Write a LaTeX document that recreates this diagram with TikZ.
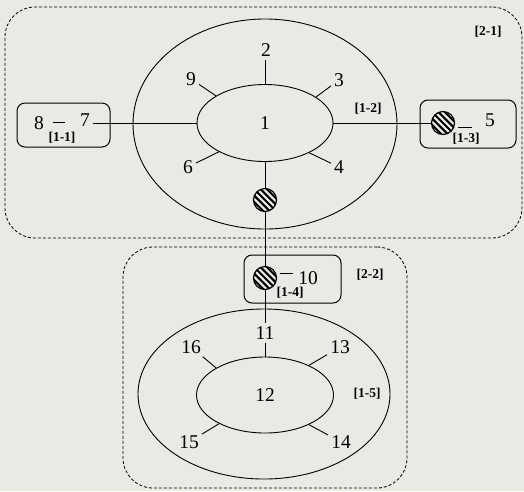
\documentclass[tikz,border=0pt]{standalone}
\usepackage{fontspec}
\setmainfont{Liberation Serif}
\usetikzlibrary{shapes.geometric}
\definecolor{paper}{RGB}{234,234,228}
\tikzset{
  ln/.style={line width=0.9pt, black},
  ell/.style={ellipse, draw, ln, inner sep=0pt},
  num/.style={inner sep=3pt, font=\fontsize{19.5}{21}\selectfont},
  lab/.style={inner sep=1pt, font=\fontsize{13.5}{15}\selectfont\bfseries},
  rbox/.style={rectangle, draw, line width=1pt, rounded corners=8pt, inner sep=0pt},
  dbox/.style={rectangle, draw, line width=0.8pt, dash pattern=on 3pt off 2pt, rounded corners=30pt, inner sep=0pt},
  hatch/.style={circle, draw, line width=1.2pt, minimum size=23pt, inner sep=0pt,
    path picture={\foreach \k in {-4,...,4}
      \draw[line width=2pt] ([shift={(\k*6.4pt-16pt,16pt)}]path picture bounding box.center) -- ++(32pt,-32pt);}},
  dashbar/.style={inner sep=0pt}
}
\begin{document}
\begin{tikzpicture}[x=1pt,y=-1pt]
\fill[paper] (0,0) rectangle (524,491);
\useasboundingbox (0,0) rectangle (524,491);
% group boxes
\node[dbox, minimum width=517pt, minimum height=231pt] (g1) at (263.5,122.5) {};
\node[dbox, minimum width=284pt, minimum height=241pt] (g2) at (265,367.5) {};
\node[lab] (l21) at (488,32) {[2-1]};
\node[lab] (l22) at (370,275) {[2-2]};
% top structure
\node[ell, minimum width=264pt, minimum height=210pt] (o1) at (265,124) {};
\node[ell, minimum width=136pt, minimum height=77pt, font=\fontsize{19.5}{21}\selectfont] (i1) at (265,123) {1};
\node[lab] (l12) at (368,109) {[1-2]};
\node[num] (n2) at (266,50) {2};
\node[num] (n9) at (191,79) {9};
\node[num] (n3) at (339,80) {3};
\node[num] (n6) at (188,167) {6};
\node[num] (n4) at (339,167) {4};
\draw[ln] (i1.north) -- (i1.north |- n2.south);
\draw[ln] (i1.151) -- (n9);
\draw[ln] (i1.27) -- (n3);
\draw[ln] (i1.212) -- (n6);
\draw[ln] (i1.326) -- (n4);
\node[hatch] (h1) at (265,200) {};
\draw[ln] (i1.south) -- (h1.north);
% left box
\node[rbox, minimum width=93pt, minimum height=44pt] (b1) at (63.5,125) {};
\node[num] (n8) at (39,123) {8};
\node[dashbar] (d1) at (59,122) {\rule{12pt}{0.8pt}};
\node[lab] (l11) at (62,138) {[1-1]};
\node[num] (n7) at (85,120) {7};
\draw[ln] (n7.east |- i1.west) -- (i1.west);
% right box
\node[rbox, minimum width=96pt, minimum height=48pt] (b3) at (468,124) {};
\node[hatch] (h3) at (443,123) {};
\node[dashbar] (d3) at (465,127) {\rule{14pt}{0.8pt}};
\node[lab] (l13) at (466,139) {[1-3]};
\node[num] (n5) at (490,120) {5};
\draw[ln] (i1.east) -- (i1.east -| h3.west);
% box 10
\node[rbox, minimum width=97pt, minimum height=48pt] (b4) at (292.5,279) {};
\node[hatch] (h2) at (265,278) {};
\node[dashbar] (d4) at (286,273) {\rule{13pt}{0.8pt}};
\node[lab] (l14) at (290,293) {[1-4]};
\node[num] (n10) at (308,278) {10};
\draw[ln] (h1.south) -- (h2.north);
% bottom structure
\node[ell, minimum width=252pt, minimum height=170pt] (o2) at (264,394) {};
\node[ell, minimum width=137pt, minimum height=76pt, font=\fontsize{19.5}{21}\selectfont] (i2) at (265,395) {12};
\node[lab] (l15) at (367,394) {[1-5]};
\node[num] (n11) at (265,333) {11};
\node[num] (n16) at (191,347) {16};
\node[num] (n13) at (340,347) {13};
\node[num] (n15) at (189,442) {15};
\node[num] (n14) at (341,442) {14};
\draw[ln] (h2.south) -- (n11.north);
\draw[ln] (n11.south) -- (i2.north);
\draw[ln] (i2.151) -- (n16);
\draw[ln] (i2.34) -- (n13);
\draw[ln] (i2.212) -- (n15);
\draw[ln] (i2.326) -- (n14);
\end{tikzpicture}
\end{document}
